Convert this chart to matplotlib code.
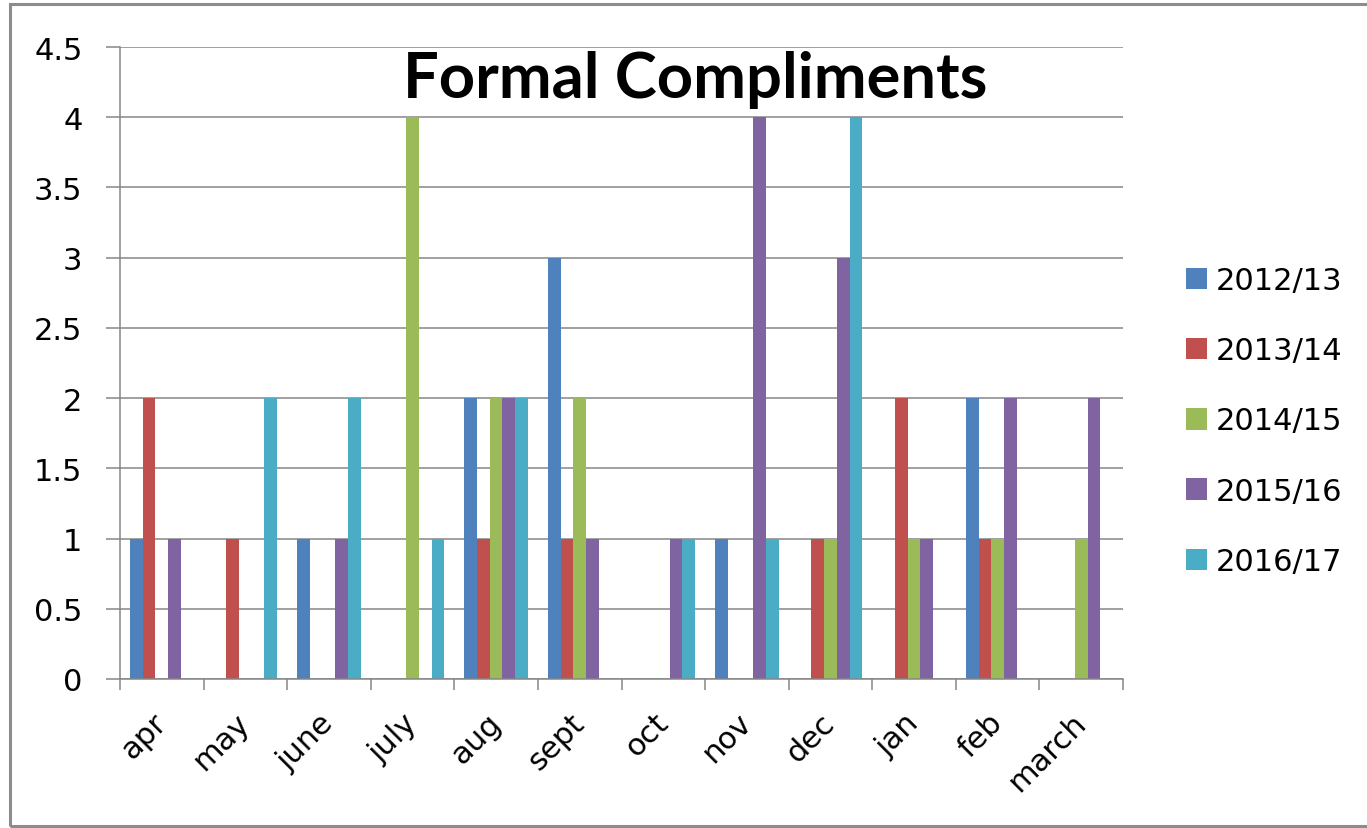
import matplotlib.pyplot as plt
import numpy as np
from matplotlib.patches import Rectangle

# data
months = ['apr', 'may', 'june', 'july', 'aug', 'sept', 'oct', 'nov', 'dec', 'jan', 'feb', 'march']
years = ['2012/13', '2013/14', '2014/15', '2015/16', '2016/17']
y2012 = [1, 0, 1, 0, 2, 3, 0, 1, 0, 0, 2, 0]
y2013 = [2, 1, 0, 0, 1, 1, 0, 0, 1, 2, 1, 0]
y2014 = [0, 0, 0, 4, 2, 2, 0, 0, 1, 1, 1, 1]
y2015 = [1, 0, 1, 0, 2, 1, 1, 4, 3, 1, 2, 2]
y2016 = [0, 2, 2, 1, 2, 0, 1, 1, 4, 0, 0, 0]
series = [y2012, y2013, y2014, y2015, y2016]
colors = ['#4F81BD', '#C0504D', '#9BBB59', '#8064A2', '#4BACC6']

W, H = 1367, 829
fig = plt.figure(figsize=(W / 100, H / 100), dpi=100)
ax = fig.add_axes([120 / W, 1 - 680 / H, (1123 - 120) / W, (680 - 48) / H])

# outer chart border
fig.patches.append(Rectangle((10 / W, 1 - 827 / H), 1.2, (827 - 5) / H,
                             transform=fig.transFigure, fill=False,
                             edgecolor='#8c8c8c', linewidth=2.2))

x = np.arange(len(months))
bw = 0.152
for i, (vals, c, lab) in enumerate(zip(series, colors, years)):
    ax.bar(x + (i - 2) * bw, vals, width=bw, color=c, label=lab, linewidth=0)

ax.set_xlim(-0.5, len(months) - 0.5)
ax.set_ylim(0, 4.5)
ax.set_yticks(np.arange(0, 4.6, 0.5))
ax.set_yticklabels(['0', '0.5', '1', '1.5', '2', '2.5', '3', '3.5', '4', '4.5'])
ax.yaxis.grid(True, color='#868686', linewidth=1.1)
ax.set_axisbelow(True)

# ticks at category boundaries, labels at centres
ax.set_xticks(np.arange(len(months) + 1) - 0.5)
ax.set_xticklabels([])
ax.set_xticks(x, minor=True)
ax.set_xticklabels(months, minor=True, rotation=45, ha='right', va='center',
                   rotation_mode='anchor', fontsize=22)
ax.tick_params(axis='x', which='minor', length=0, pad=28)
ax.tick_params(axis='x', which='major', length=8, width=1.1, color='#868686')
ax.tick_params(axis='y', length=10, width=1.1, color='#868686', labelsize=22, pad=17)

for s in ['top', 'right']:
    ax.spines[s].set_visible(False)
for s in ['left', 'bottom']:
    ax.spines[s].set_color('#868686')
    ax.spines[s].set_linewidth(1.1)

fig.text(695 / W, 1 - 80 / H, 'Formal Compliments', ha='center', va='center',
         fontsize=45.5, fontweight='bold', family='Lato')

fig.legend(loc='center left', bbox_to_anchor=(1158 / W, 1 - 422 / H), frameon=False,
           fontsize=22, handlelength=0.7, handleheight=0.7, handletextpad=0.3,
           labelspacing=1.35)

fig.savefig('out.png', dpi=100)
